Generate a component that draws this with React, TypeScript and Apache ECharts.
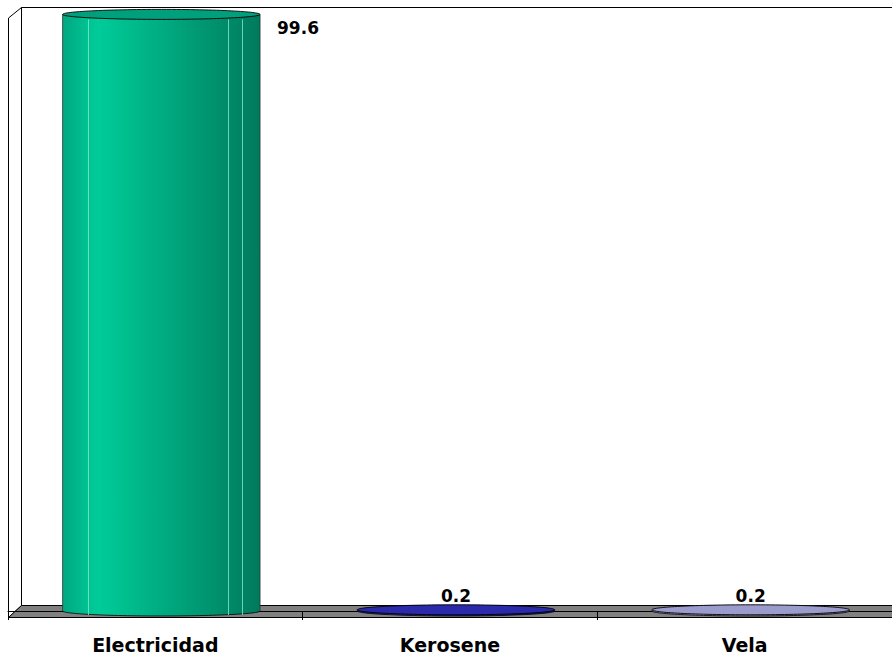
import React, { useEffect, useRef } from "react";
import * as echarts from "echarts";

const categories = ["Electricidad", "Kerosene", "Vela"];
const values = [99.6, 0.2, 0.2];
const valueLabels = ["99.6", "0.2", "0.2"];

const palettes = [
  { edge: "#00A882", light: "#00CC99", dark: "#007A5C", top: "#00A07C", hl: "#7FE8CC" },
  { edge: "#2626A8", light: "#3030C0", dark: "#16167A", top: "#2A2AAA", hl: "#5A5AD0" },
  { edge: "#9090C4", light: "#A8A8DA", dark: "#7272A8", top: "#9C9CCC", hl: "#C8C8EE" },
];

const FONT = "DejaVu Sans";

export default function App() {
  const ref = useRef<HTMLDivElement>(null);
  useEffect(() => {
    if (!ref.current) return;
    const chart = echarts.init(ref.current, null, { renderer: "svg" });
    const option: any = {
      animation: false,
      backgroundColor: "#ffffff",
      grid: { left: 8, right: 0, top: 12, bottom: 44, containLabel: false },
      graphic: [
        {
          type: "polygon",
          z: -10,
          silent: true,
          shape: { points: [[8.5, 18], [21.5, 7.5], [21.5, 605.5], [8.5, 617.5]] },
          style: { fill: "#ffffff", stroke: "#000000", lineWidth: 1 },
        },
        {
          type: "line",
          z: -10,
          silent: true,
          shape: { x1: 21.5, y1: 7.5, x2: 892, y2: 7.5 },
          style: { stroke: "#000000", lineWidth: 1 },
        },
        {
          type: "polygon",
          z: -10,
          silent: true,
          shape: { points: [[8.5, 617.5], [21.5, 605.5], [896, 605.5], [896, 617.5]] },
          style: { fill: "#808080", stroke: "#000000", lineWidth: 1 },
        },
      ],
      xAxis: {
        type: "category",
        data: categories,
        offset: 6,
        axisLine: { show: true, lineStyle: { color: "#000000", width: 1 } },
        axisTick: { show: true, length: 9, lineStyle: { color: "#000000" } },
        axisLabel: {
          color: "#000000",
          fontFamily: FONT,
          fontWeight: "bold",
          fontSize: 19,
          margin: 18,
        },
        splitLine: { show: false },
      },
      yAxis: {
        type: "value",
        min: 0,
        max: 100,
        show: false,
        splitLine: { show: false },
      },
      series: [
        {
          type: "custom",
          z: 10,
          encode: { x: 0, y: 1 },
          data: categories.map((c, i) => [i, values[i]]),
          renderItem: (params: any, api: any) => {
            const i = api.value(0);
            const v = api.value(1);
            const top = api.coord([i, v]);
            const base = api.coord([i, 0]);
            const band = api.size([1, 0])[0];
            const w = band * 0.67;
            const cx = base[0] + 6;
            const x0 = cx - w / 2;
            const x1 = cx + w / 2;
            const ry = 5;
            const p = palettes[params.dataIndex % palettes.length];
            const grad = new echarts.graphic.LinearGradient(0, 0, 1, 0, [
              { offset: 0, color: p.edge },
              { offset: 0.18, color: p.light },
              { offset: 1, color: p.dark },
            ]);
            const h = base[1] - top[1];
            const children: any[] = [
              {
                type: "ellipse",
                shape: { cx, cy: base[1], rx: w / 2, ry },
                style: { fill: grad, stroke: "#000000", lineWidth: 0.8 },
              },
              {
                type: "rect",
                shape: { x: x0, y: top[1], width: w, height: h },
                style: { fill: grad },
              },
              {
                type: "line",
                shape: { x1: x0, y1: top[1], x2: x0, y2: base[1] },
                style: { stroke: "#333333", lineWidth: 0.8 },
              },
              {
                type: "line",
                shape: { x1: x1, y1: top[1], x2: x1, y2: base[1] },
                style: { stroke: "#333333", lineWidth: 0.8 },
              },
            ];
            if (h > 20) {
              [0.13, 0.84, 0.91].forEach((f) => {
                const xx = Math.round(x0 + w * f) + 0.5;
                children.push({
                  type: "line",
                  shape: { x1: xx, y1: top[1] + ry, x2: xx, y2: base[1] + ry - 1 },
                  style: { stroke: p.hl, lineWidth: 1, opacity: 0.8 },
                });
              });
            }
            children.push({
              type: "ellipse",
              shape: { cx, cy: top[1], rx: w / 2, ry },
              style: { fill: p.top, stroke: "#000000", lineWidth: 0.9 },
            });
            const big = v > 50;
            children.push({
              type: "text",
              style: {
                text: valueLabels[params.dataIndex],
                x: big ? x1 + 17 : cx,
                y: big ? top[1] + 14 : top[1] - 14,
                align: big ? "left" : "center",
                verticalAlign: "middle",
                fill: "#000000",
                font: `bold 17px "${FONT}"`,
              },
            });
            return { type: "group", children };
          },
        },
      ],
    };
    chart.setOption(option);
    return () => chart.dispose();
  }, []);
  return (
    <div
      ref={ref}
      style={{ position: "fixed", left: 0, top: 0, width: 892, height: 655, background: "#fff" }}
    />
  );
}
